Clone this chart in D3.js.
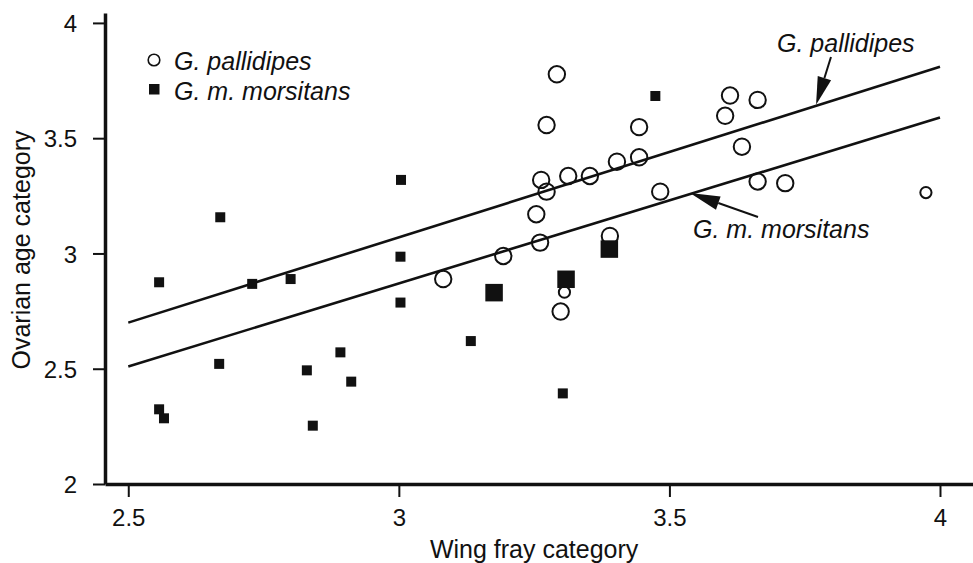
<!DOCTYPE html>
<html>
<head>
<meta charset="utf-8">
<script src="https://cdn.jsdelivr.net/npm/d3@7"></script>
<style>
  html, body { margin: 0; padding: 0; background: #fff; }
  svg { display: block; font-family: "Liberation Sans", Arial, sans-serif; }
</style>
</head>
<body>
<svg id="chart" width="973" height="563"></svg>
<script>
// Glossina pallidipes: wing fray vs ovarian age category (open circles)
const pallWing = [3.082, 3.193, 3.261, 3.254, 3.263, 3.273, 3.273, 3.292, 3.313, 3.353, 3.403, 3.444,
                  3.444, 3.483, 3.390, 3.306, 3.299, 3.612, 3.663, 3.603, 3.634, 3.663, 3.714, 3.974];
const pallAge  = [2.889, 2.989, 3.047, 3.170, 3.319, 3.268, 3.557, 3.777, 3.336, 3.336, 3.398, 3.417,
                  3.548, 3.268, 3.076, 2.832, 2.748, 3.685, 3.666, 3.597, 3.463, 3.312, 3.305, 3.264];
const pallSize = [2, 2, 2, 2, 2, 2, 2, 2, 2, 2, 2, 2,
                  2, 2, 2, 1, 2, 2, 2, 2, 2, 2, 2, 1];

// Glossina morsitans morsitans (filled squares)
const morsWing = [2.557, 2.670, 2.729, 2.800, 3.004, 3.003, 3.003, 2.668, 2.557, 2.566,
                  2.830, 2.892, 2.912, 2.841, 3.133, 3.176, 3.309, 3.303, 3.389, 3.474];
const morsAge  = [2.875, 3.157, 2.868, 2.889, 3.319, 2.986, 2.787, 2.521, 2.324, 2.285,
                  2.493, 2.571, 2.444, 2.253, 2.620, 2.830, 2.888, 2.393, 3.019, 3.683];
const morsSize = [1, 1, 1, 1, 1, 1, 1, 1, 1, 1,
                  1, 1, 1, 1, 1, 2, 2, 1, 2, 1];

// Fitted regression lines (wing fray -> ovarian age)
const fitWing = [2.5, 4.0];
const fitPall = [2.70, 3.81];
const fitMors = [2.51, 3.59];

const xTicks = [2.5, 3, 3.5, 4];
const yTicks = [2, 2.5, 3, 3.5, 4];
const xTitle = "Wing fray category";
const yTitle = "Ovarian age category";
const speciesNames = ["G. pallidipes", "G. m. morsitans"];

const ink = "#111";
const svg = d3.select("#chart");

const x = d3.scaleLinear().domain([2.457, 4.061]).range([105, 973]);
const y = d3.scaleLinear().domain([2, 4.043]).range([484, 13]);

// axes
const xAxis = svg.append("g").attr("transform", `translate(0,${y(2)})`)
  .call(d3.axisBottom(x).tickValues(xTicks).tickFormat(d => String(d))
        .tickSize(13).tickSizeOuter(0).tickPadding(6));
const yAxis = svg.append("g").attr("transform", `translate(${x.range()[0]},0)`)
  .call(d3.axisLeft(y).tickValues(yTicks).tickFormat(d => String(d))
        .tickSize(12).tickSizeOuter(0).tickPadding(16));

[xAxis, yAxis].forEach(g => {
  g.select(".domain").attr("stroke", ink).attr("stroke-width", 3.5);
  g.selectAll(".tick line").attr("stroke", ink).attr("stroke-width", 2);
  g.selectAll(".tick text").attr("fill", ink).attr("font-size", 24)
    .attr("font-family", "Liberation Sans, Arial, sans-serif");
});
xAxis.selectAll(".tick text").attr("dy", "0.95em");
yAxis.selectAll(".tick text").attr("dy", "0.36em");

// axis titles
svg.append("text").attr("x", (x(2.5) + x(4)) / 2).attr("y", 558)
  .attr("text-anchor", "middle").attr("font-size", 25).attr("fill", ink).text(xTitle);
svg.append("text").attr("transform", `translate(30,250) rotate(-90)`)
  .attr("text-anchor", "middle").attr("font-size", 25).attr("fill", ink).text(yTitle);

// regression lines
const line = d3.line().x(d => x(d[0])).y(d => y(d[1]));
[fitPall, fitMors].forEach(fit => {
  svg.append("path").datum(fitWing.map((w, i) => [w, fit[i]]))
    .attr("d", line).attr("fill", "none").attr("stroke", ink).attr("stroke-width", 2.6);
});

// points
const rScale = d3.scaleOrdinal().domain([1, 2]).range([5.6, 8.2]);
const sScale = d3.scaleOrdinal().domain([1, 2]).range([10, 17.5]);

svg.append("g").selectAll("circle").data(d3.range(pallWing.length)).join("circle")
  .attr("cx", i => x(pallWing[i])).attr("cy", i => y(pallAge[i]))
  .attr("r", i => rScale(pallSize[i]))
  .attr("fill", "none").attr("stroke", ink).attr("stroke-width", 2);

svg.append("g").selectAll("rect").data(d3.range(morsWing.length)).join("rect")
  .attr("x", i => x(morsWing[i]) - sScale(morsSize[i]) / 2)
  .attr("y", i => y(morsAge[i]) - sScale(morsSize[i]) / 2)
  .attr("width", i => sScale(morsSize[i])).attr("height", i => sScale(morsSize[i]))
  .attr("fill", ink);

// legend
const leg = svg.append("g").attr("font-size", 25).attr("font-style", "italic").attr("fill", ink);
leg.append("circle").attr("cx", 154).attr("cy", 60).attr("r", 5.8)
  .attr("fill", "none").attr("stroke", ink).attr("stroke-width", 1.6);
leg.append("text").attr("x", 174).attr("y", 70).text(speciesNames[0]);
leg.append("rect").attr("x", 149).attr("y", 84).attr("width", 10.5).attr("height", 10.5).attr("fill", ink);
leg.append("text").attr("x", 174).attr("y", 100).text(speciesNames[1]);

// labelled arrows pointing at each fitted line
function arrow(x0, y0, x1, y1, headLen, headW) {
  const ang = Math.atan2(y1 - y0, x1 - x0);
  const bx = x1 - headLen * Math.cos(ang), by = y1 - headLen * Math.sin(ang);
  const px = -Math.sin(ang) * headW / 2, py = Math.cos(ang) * headW / 2;
  svg.append("line").attr("x1", x0).attr("y1", y0).attr("x2", bx).attr("y2", by)
    .attr("stroke", ink).attr("stroke-width", 2);
  svg.append("path")
    .attr("d", `M${x1},${y1}L${bx + px},${by + py}L${bx - px},${by - py}Z`)
    .attr("fill", ink);
}
// tips sit on the fitted lines
const tipPallX = 3.771, tipMorsX = 3.538;
const interp = (fit, w) => fit[0] + (fit[1] - fit[0]) * (w - fitWing[0]) / (fitWing[1] - fitWing[0]);
arrow(831, 57, x(tipPallX), y(interp(fitPall, tipPallX)) - 1, 28, 14);
arrow(758, 217, x(tipMorsX), y(interp(fitMors, tipMorsX)) - 1, 30, 14);

svg.append("text").attr("x", 777).attr("y", 52).attr("font-size", 25)
  .attr("font-style", "italic").attr("fill", ink).text(speciesNames[0]);
svg.append("text").attr("x", 693).attr("y", 238).attr("font-size", 25)
  .attr("font-style", "italic").attr("fill", ink).text(speciesNames[1]);
</script>
</body>
</html>
